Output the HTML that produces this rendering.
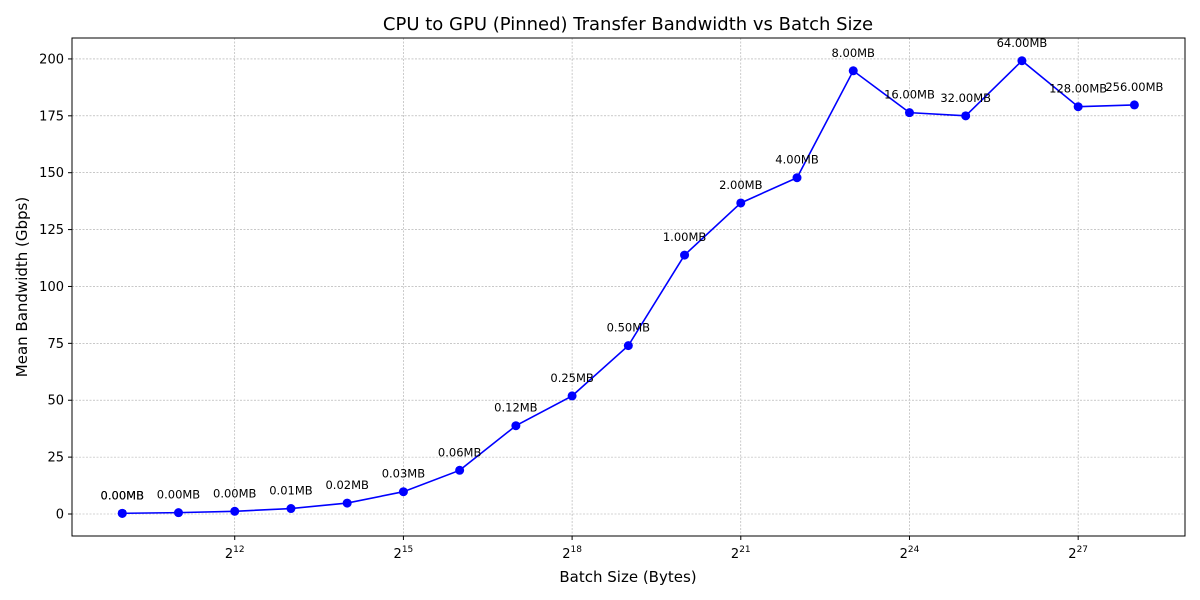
<!DOCTYPE html>
<html><head><meta charset="utf-8"><style>
body{margin:0;background:#fff;}
svg{display:block;font-family:"DejaVu Sans","Liberation Sans",sans-serif;}
</style></head><body>
<svg id="chart" width="1200" height="600">
<rect x="0" y="0" width="1200" height="600" fill="#fff"/>
<text x="628" y="30" font-size="18" text-anchor="middle">CPU to GPU (Pinned) Transfer Bandwidth vs Batch Size</text>
<g id="grid"></g><g id="axes"></g><g id="series"></g>
<rect x="72" y="38" width="1113" height="498" fill="none" stroke="#000" stroke-width="1"/>
<text x="628" y="582" font-size="15" text-anchor="middle">Batch Size (Bytes)</text>
<text transform="translate(27,287) rotate(-90)" font-size="15" text-anchor="middle">Mean Bandwidth (Gbps)</text>
</svg>
<script>
const exponents=[10,10,11,12,13,14,15,16,17,18,19,20,21,22,23,24,25,26,27,28];
const bandwidth=[0.3,0.3,0.6,1.2,2.4,4.8,9.8,19.2,38.8,51.9,74,113.8,136.7,147.8,194.8,176.4,175,199.2,179,179.8];
const sizeLabels=["0.00MB","0.00MB","0.00MB","0.00MB","0.01MB","0.02MB","0.03MB","0.06MB","0.12MB","0.25MB","0.50MB","1.00MB","2.00MB","4.00MB","8.00MB","16.00MB","32.00MB","64.00MB","128.00MB","256.00MB"];
const yTicks=[0,25,50,75,100,125,150,175,200];
const xTicks=[12,15,18,21,24,27];
const NS="http://www.w3.org/2000/svg";
const L=72,R=1185,T=38,B=536;
const xMin=9.106,xMax=28.90,yMin=-9.67,yMax=209.2;
const xs=e=>L+(e-xMin)/(xMax-xMin)*(R-L);
const ys=v=>B-(v-yMin)/(yMax-yMin)*(B-T);
function mk(tag,attrs,parent,text){const el=document.createElementNS(NS,tag);for(const k in attrs)el.setAttribute(k,attrs[k]);if(text!==undefined)el.textContent=text;parent.appendChild(el);return el;}
const grid=document.getElementById('grid'),axes=document.getElementById('axes'),series=document.getElementById('series');
yTicks.forEach(v=>{const y=ys(v);
const g=mk('line',{x1:L,x2:R,y1:y,y2:y,stroke:'#a8a8a8','stroke-width':0.6,'stroke-dasharray':'2,1.5'},grid);

mk('line',{x1:L-4,x2:L,y1:y,y2:y,stroke:'#000'},axes);
const t=mk('text',{x:L-8,y:y+4.5,'font-size':13,'text-anchor':'end'},axes,String(v));
});
xTicks.forEach(e=>{const x=xs(e);
const g=mk('line',{x1:x,x2:x,y1:T,y2:B,stroke:'#a8a8a8','stroke-width':0.6,'stroke-dasharray':'2,1.5'},grid);

mk('line',{x1:x,x2:x,y1:B,y2:B+4,stroke:'#000'},axes);
const t=mk('text',{x:x,y:B+22,'font-size':13,'text-anchor':'middle'},axes);

t.appendChild(document.createTextNode('2'));
mk('tspan',{dy:-6,'font-size':9},t,String(e));});
const pts=exponents.map((e,i)=>xs(e)+','+ys(bandwidth[i])).join(' ');
const line=mk('polyline',{points:pts,fill:'none',stroke:'#0000ff','stroke-width':1.6},series);

exponents.forEach((e,i)=>{const x=xs(e),y=ys(bandwidth[i]);
const c=mk('circle',{cx:x,cy:y,r:4.5,fill:'#0000ff'},series);

const t=mk('text',{x:x,y:y-14,'font-size':11.5,'text-anchor':'middle'},series,sizeLabels[i]);
});
</script>
</body></html>
